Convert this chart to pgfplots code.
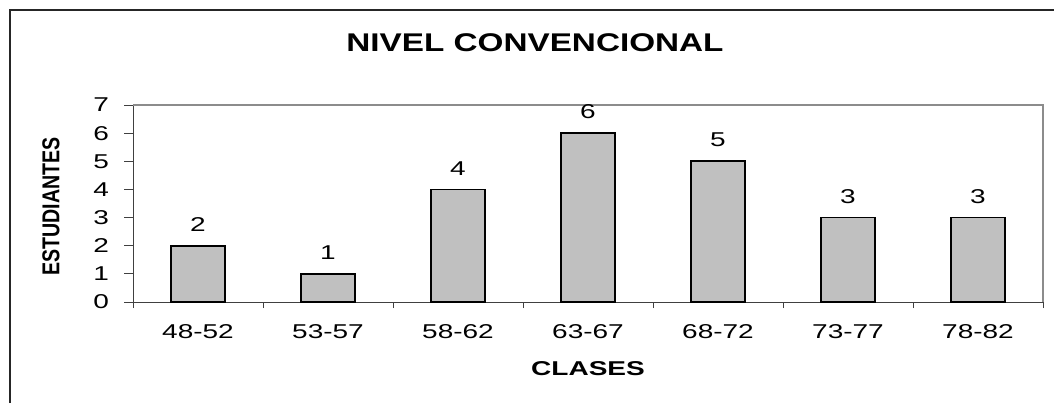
\documentclass[border=0pt]{standalone}
\usepackage{fontspec}
\setmainfont{Liberation Sans}[FakeStretch=1.4]
\newfontfamily\titlefont{Liberation Sans}[FakeStretch=1.3]
\newfontfamily\ylabfont{Liberation Sans}
\usepackage{pgfplots}
\pgfplotsset{compat=1.18}
\definecolor{barfill}{RGB}{192,192,192}
\begin{document}
\begin{tikzpicture}
\begin{axis}[
  at={(66.5pt,50.5pt)}, anchor=south west,
  scale only axis, width=455pt, height=98.5pt,
  xmin=-0.5, xmax=6.5, ymin=0, ymax=7,
  axis x line*=bottom, axis y line*=left,
  axis line style={-, draw=black!75, line width=0.5pt},
  ybar, bar width=27pt, bar shift=0pt,
  xtick={0,...,6},
  xticklabels={48-52,53-57,58-62,63-67,68-72,73-77,78-82},
  major x tick style={draw=none},
  minor xtick={-0.5,0.5,...,6.5},
  ytick={0,...,7},
  tick align=outside,
  major tick length=4.5pt, minor tick length=3pt,
  tick style={draw=black!75, line width=0.5pt},
  /pgf/number format/assume math mode=true,
  ticklabel style={font=\fontsize{10}{12}\selectfont},
  xticklabel style={yshift=-3pt},
  yticklabel style={xshift=-4pt},
  xlabel={CLASES}, ylabel={\scalebox{0.98}[1.22]{ESTUDIANTES}},
  xlabel style={font=\bfseries\fontsize{10}{12}\selectfont, at={(axis description cs:0.5,0)}, anchor=center, yshift=-33.5pt},
  ylabel style={font=\ylabfont\bfseries\fontsize{10}{12}\selectfont, at={(axis description cs:0,0.5)}, anchor=center, yshift=41pt, xshift=-1.5pt},
  nodes near coords,
  every node near coord/.append style={font=\fontsize{10}{12}\selectfont, yshift=3.4pt, text=black},
  clip=false,
]
\addplot[fill=barfill, draw=black, line width=0.9pt] coordinates {(0,2) (1,1) (2,4) (3,6) (4,5) (5,3) (6,3)};
\draw[draw=black!45, line width=0.75pt] (rel axis cs:0,1) -- (rel axis cs:1,1) -- (rel axis cs:1,0);
\end{axis}
\node[font=\titlefont\bfseries\fontsize{12.8}{15}\selectfont] at (267.5pt,180pt) {NIVEL CONVENCIONAL};
\draw[line width=0.75pt, black!85] (5pt,0pt) -- (5pt,196.5pt) -- (527pt,196.5pt);
\pgfresetboundingbox
\useasboundingbox (0,0) rectangle (527pt,201.5pt);
\end{tikzpicture}
\end{document}
